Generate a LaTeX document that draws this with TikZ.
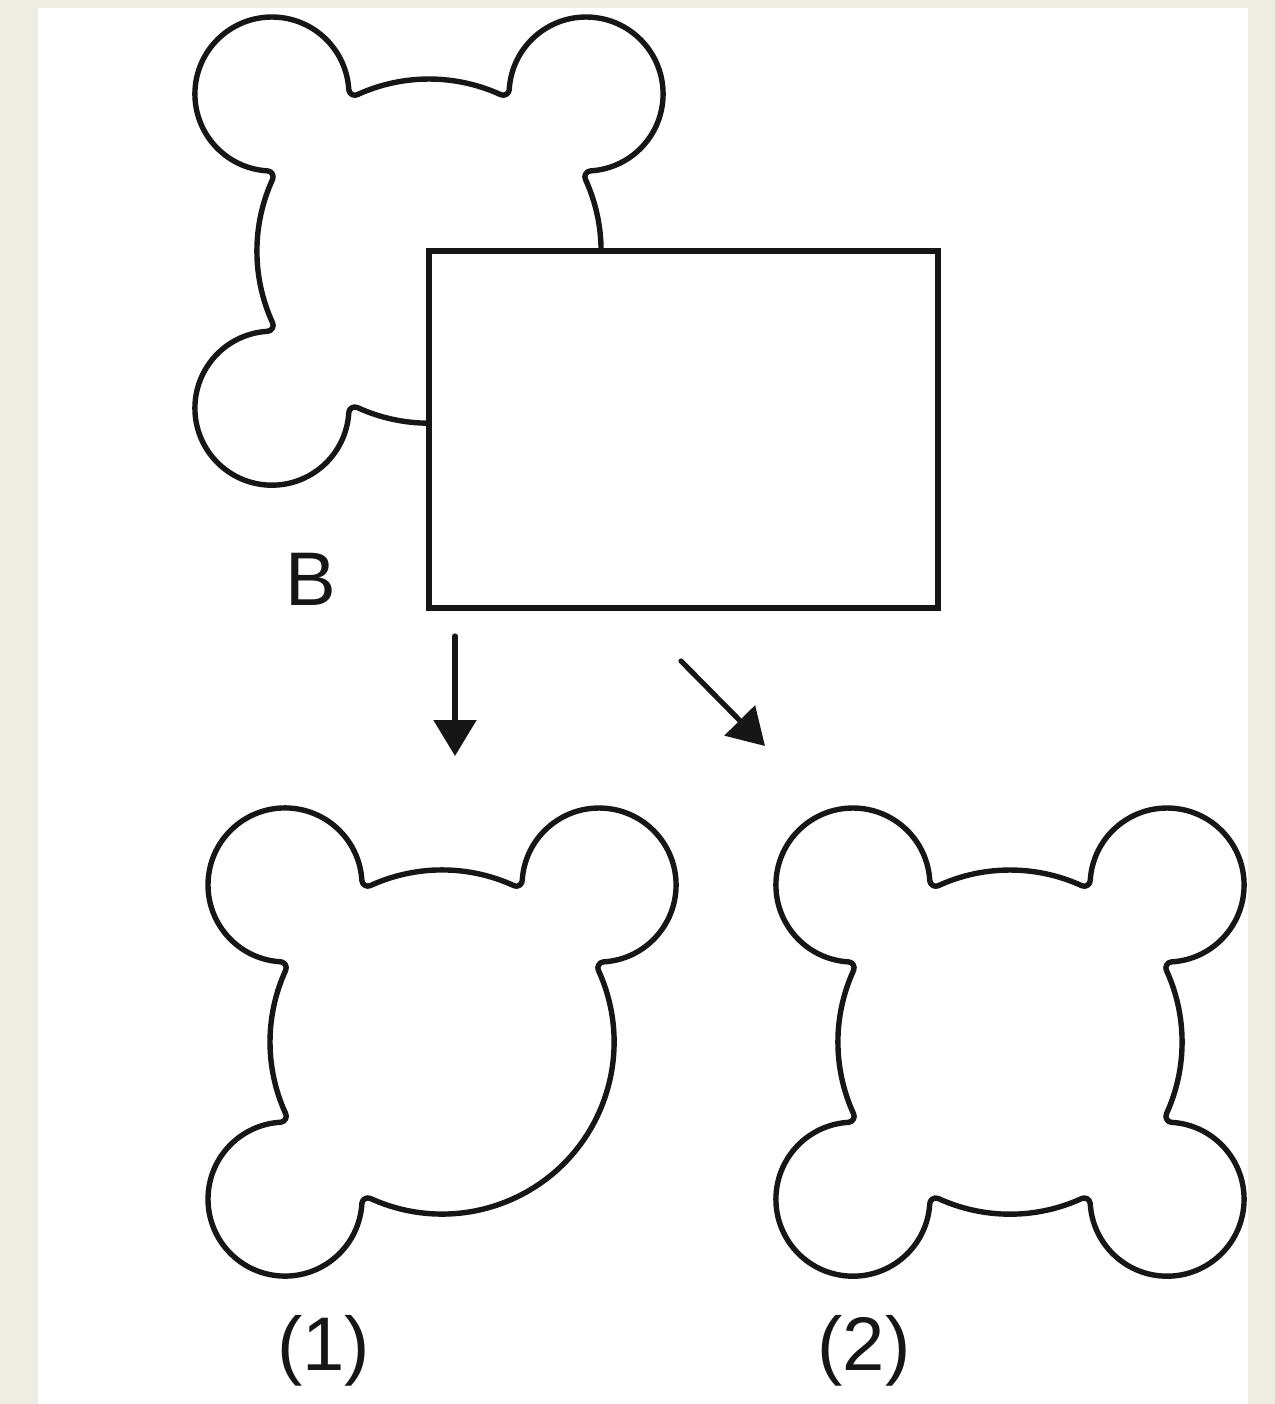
\documentclass[tikz,border=0pt]{standalone}
\usepackage{fontspec}
\setmainfont{Liberation Sans}
\usetikzlibrary{arrows.meta}
\definecolor{paper}{RGB}{237,237,228}
\definecolor{ink}{RGB}{22,22,22}
\begin{document}
\begin{tikzpicture}[x=0.5pt,y=-0.5pt,
  outline/.style={draw=ink, line width=2.7pt, line join=round},
  boxline/.style={draw=ink, line width=2.9pt},
  arr/.style={draw=ink, fill=ink, line width=2.6pt, line cap=round, -{Triangle[length=18pt,width=21pt]}},
  lbl/.style={inner sep=0pt, anchor=base, text=ink, font=\fontsize{38}{40}\selectfont}]
\fill[paper] (0,0) rectangle (1275,1404);
\fill[white] (38,8) rectangle (1248,1404);
\useasboundingbox (0,0) rectangle (1275,1404);

% centres
\coordinate (cB) at (429,251);
\coordinate (c1) at (442,1042);
\coordinate (c2) at (1010,1042);

% shape B (top)
\draw[outline] ([shift={(294.65:172)}]cB)
  \foreach \a in {315,405,495,585}{
    arc[start angle=\a+159.65,end angle=\a+48.3,radius=6]
    arc[start angle=\a-131.7,end angle=\a+131.7,radius=77]
    arc[start angle=\a-48.3,end angle=\a-159.65,radius=6]
    arc[start angle=\a+20.35,end angle=\a+69.65,radius=172]
  } -- cycle;

% rectangle over shape B
\coordinate (rTL) at (429,251);
\coordinate (rBR) at (938,608);
\draw[boxline,fill=white] (rTL) rectangle (rBR);

% shape (1): bottom-right lobe missing
\draw[outline] ([shift={(294.65:172)}]c1)
  \foreach \a in {315}{
    arc[start angle=\a+159.65,end angle=\a+48.3,radius=6]
    arc[start angle=\a-131.7,end angle=\a+131.7,radius=77]
    arc[start angle=\a-48.3,end angle=\a-159.65,radius=6]
  }
  arc[start angle=335.35,end angle=474.65,radius=172]
  \foreach \a in {495,585}{
    arc[start angle=\a+159.65,end angle=\a+48.3,radius=6]
    arc[start angle=\a-131.7,end angle=\a+131.7,radius=77]
    arc[start angle=\a-48.3,end angle=\a-159.65,radius=6]
    arc[start angle=\a+20.35,end angle=\a+69.65,radius=172]
  } -- cycle;

% shape (2): full
\draw[outline] ([shift={(294.65:172)}]c2)
  \foreach \a in {315,405,495,585}{
    arc[start angle=\a+159.65,end angle=\a+48.3,radius=6]
    arc[start angle=\a-131.7,end angle=\a+131.7,radius=77]
    arc[start angle=\a-48.3,end angle=\a-159.65,radius=6]
    arc[start angle=\a+20.35,end angle=\a+69.65,radius=172]
  } -- cycle;

% arrows
\coordinate (a1s) at (455,636);
\coordinate (a1e) at (455,756);
\coordinate (a2s) at (681,661);
\coordinate (a2e) at (765,746);
\draw[arr] (a1s) -- (a1e);
\draw[arr] (a2s) -- (a2e);

% labels
\node[lbl] (labB) at (310.5,605) {B};
\node[lbl] (lab1) at (323.5,1370) {(1)};
\node[lbl] (lab2) at (864,1370) {(2)};
\end{tikzpicture}
\end{document}
